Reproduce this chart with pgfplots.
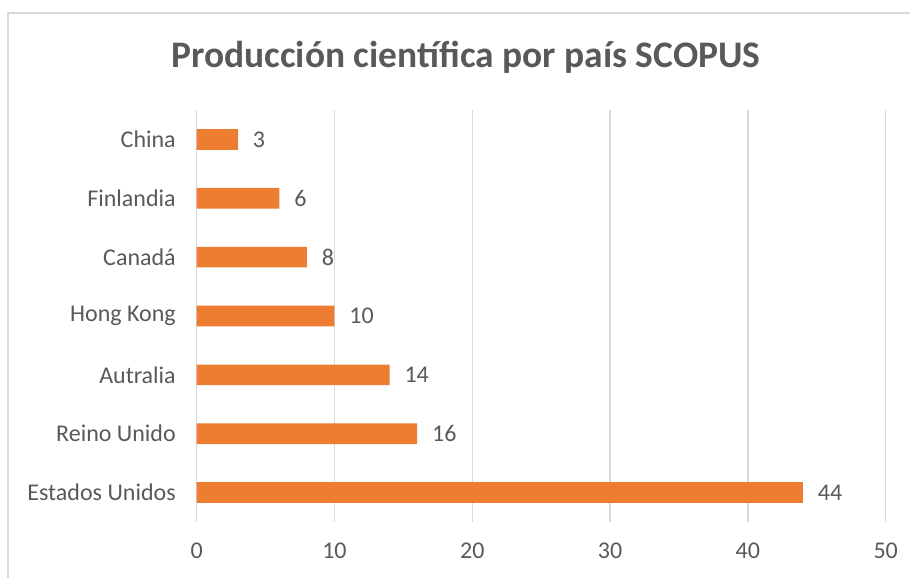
\documentclass[border=0pt]{standalone}
\usepackage{pgfplots}
\pgfplotsset{compat=1.18}
\usepackage{fontspec}
\setmainfont{Carlito}
\definecolor{barorange}{HTML}{ED7D31}
\definecolor{txt}{HTML}{595959}
\definecolor{gridc}{HTML}{D9D9D9}
\begin{document}
\begin{tikzpicture}
% 1 px of the reference = 0.75pt
\useasboundingbox (0pt,0pt) rectangle (682.5pt,433.5pt);
\clip (0pt,0pt) rectangle (682.5pt,433.5pt);
% chart frame (cut off on the right and at the bottom)
\draw[gridc, line width=1.2pt] (6pt,-15pt) -- (6pt,423.75pt) -- (700pt,423.75pt);
\node[font=\bfseries\fontsize{28.1}{30}\selectfont, text=txt] at (349.5pt,390.75pt) {Producción científica por país SCOPUS};
\begin{axis}[
  at={(147.5pt,42pt)}, anchor=south west,
  scale only axis, width=516.75pt, height=309pt,
  xbar, bar width=15.5pt,
  xmin=0, xmax=50, ymin=-0.5, ymax=6.5,
  xtick={0,10,...,50},
  ytick={0,...,6},
  yticklabels={Estados Unidos,Reino Unido,Autralia,Hong Kong,Canadá,Finlandia,China},
  axis line style={draw=none},
  major tick length=0pt,
  xmajorgrids, grid style={gridc, line width=1.1pt},
  /pgf/number format/assume math mode=true,
  tick label style={font=\fontsize{18}{20}\selectfont, text=txt},
  y tick label style={anchor=east, inner sep=0pt, xshift=-15.5pt},
  x tick label style={anchor=center, inner sep=0pt, yshift=-21.5pt},
  nodes near coords,
  nodes near coords style={font=\fontsize{18}{20}\selectfont, text=txt, anchor=west, inner sep=0pt, xshift=11pt},
]
\addplot[fill=barorange, draw=none] coordinates {
  (44,0) (16,1) (14,2) (10,3) (8,4) (6,5) (3,6)
};
\end{axis}
\end{tikzpicture}
\end{document}
